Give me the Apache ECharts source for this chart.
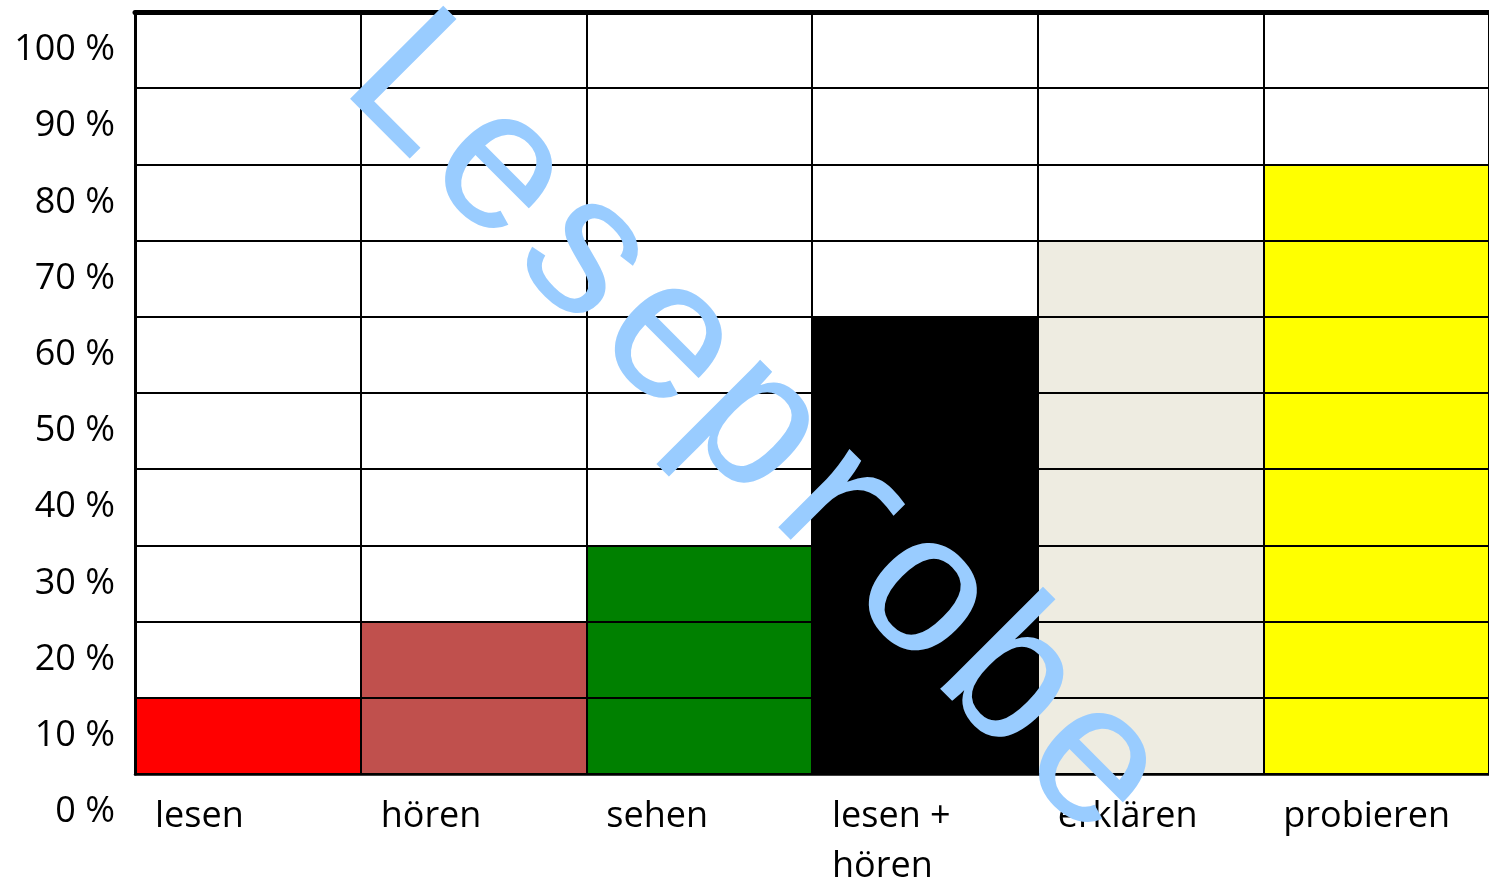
<!DOCTYPE html>
<html>
<head>
<meta charset="utf-8">
<script src="https://cdn.jsdelivr.net/npm/echarts@6/dist/echarts.min.js"></script>
<style>
html,body{margin:0;padding:0;background:#fff;}
#chart{width:1489px;height:886px;}
</style>
</head>
<body>
<div id="chart"></div>
<script>
var categories = ['lesen', 'hören', 'sehen', 'lesen +\nhören', 'erklären', 'probieren'];
var values = [10, 20, 30, 60, 70, 80];
var barColors = ['#ff0000', '#c0504d', '#008000', '#000000', '#eeece1', '#ffff00'];
var yTicks = [0, 100, 10]; // min, max, interval
var watermark = 'Leseprobe';

var FONT = '"Open Sans", sans-serif';
var chart = echarts.init(document.getElementById('chart'));
chart.setOption({
  backgroundColor: '#ffffff',
  animation: false,
  grid: { left: 135, right: 0, top: 12, bottom: 112, containLabel: false, outerBoundsMode: 'none' },
  xAxis: [
    {
      type: 'category',
      data: categories,
      position: 'top',
      boundaryGap: true,
      z: 5,
      axisLine: { show: true, onZero: false, lineStyle: { color: '#000', width: 5 } },
      axisTick: { show: false },
      axisLabel: { show: false },
      splitLine: { show: true, interval: 0, lineStyle: { color: '#000', width: 2 } }
    },
    {
      type: 'category',
      data: categories.concat(['']),
      position: 'bottom',
      boundaryGap: false,
      z: 5,
      axisLine: { show: true, onZero: false, lineStyle: { color: '#000', width: 2.5 } },
      axisTick: { show: false },
      splitLine: { show: false },
      axisLabel: {
        show: true, interval: 0, align: 'left', padding: [0, 0, 0, 20],
        margin: 18, fontSize: 36, lineHeight: 50, color: '#000', fontFamily: FONT
      }
    }
  ],
  yAxis: {
    type: 'value',
    min: yTicks[0], max: yTicks[1], interval: yTicks[2],
    z: 5,
    axisLine: { show: true, lineStyle: { color: '#000', width: 3 } },
    axisTick: { show: false },
    splitLine: { show: true, lineStyle: { color: '#000', width: 2 } },
    axisLabel: {
      formatter: '{value} %', fontSize: 36, color: '#000', fontFamily: FONT,
      margin: 20, verticalAlign: 'top', lineHeight: 76
    }
  },
  series: [{
    type: 'bar',
    xAxisIndex: 0,
    barWidth: '100%',
    barCategoryGap: 0,
    z: 2,
    data: values.map(function (v, i) {
      return { value: v, itemStyle: { color: barColors[i] } };
    })
  }],
  graphic: [{
    type: 'text',
    z: 100,
    x: 753, y: 427,
    rotation: -Math.PI / 4,
    style: {
      text: watermark,
      fontFamily: '"Liberation Mono", monospace',
      fontSize: 200,
      fill: '#99ccff',
      align: 'center',
      verticalAlign: 'middle'
    }
  }]
});
</script>
</body>
</html>
